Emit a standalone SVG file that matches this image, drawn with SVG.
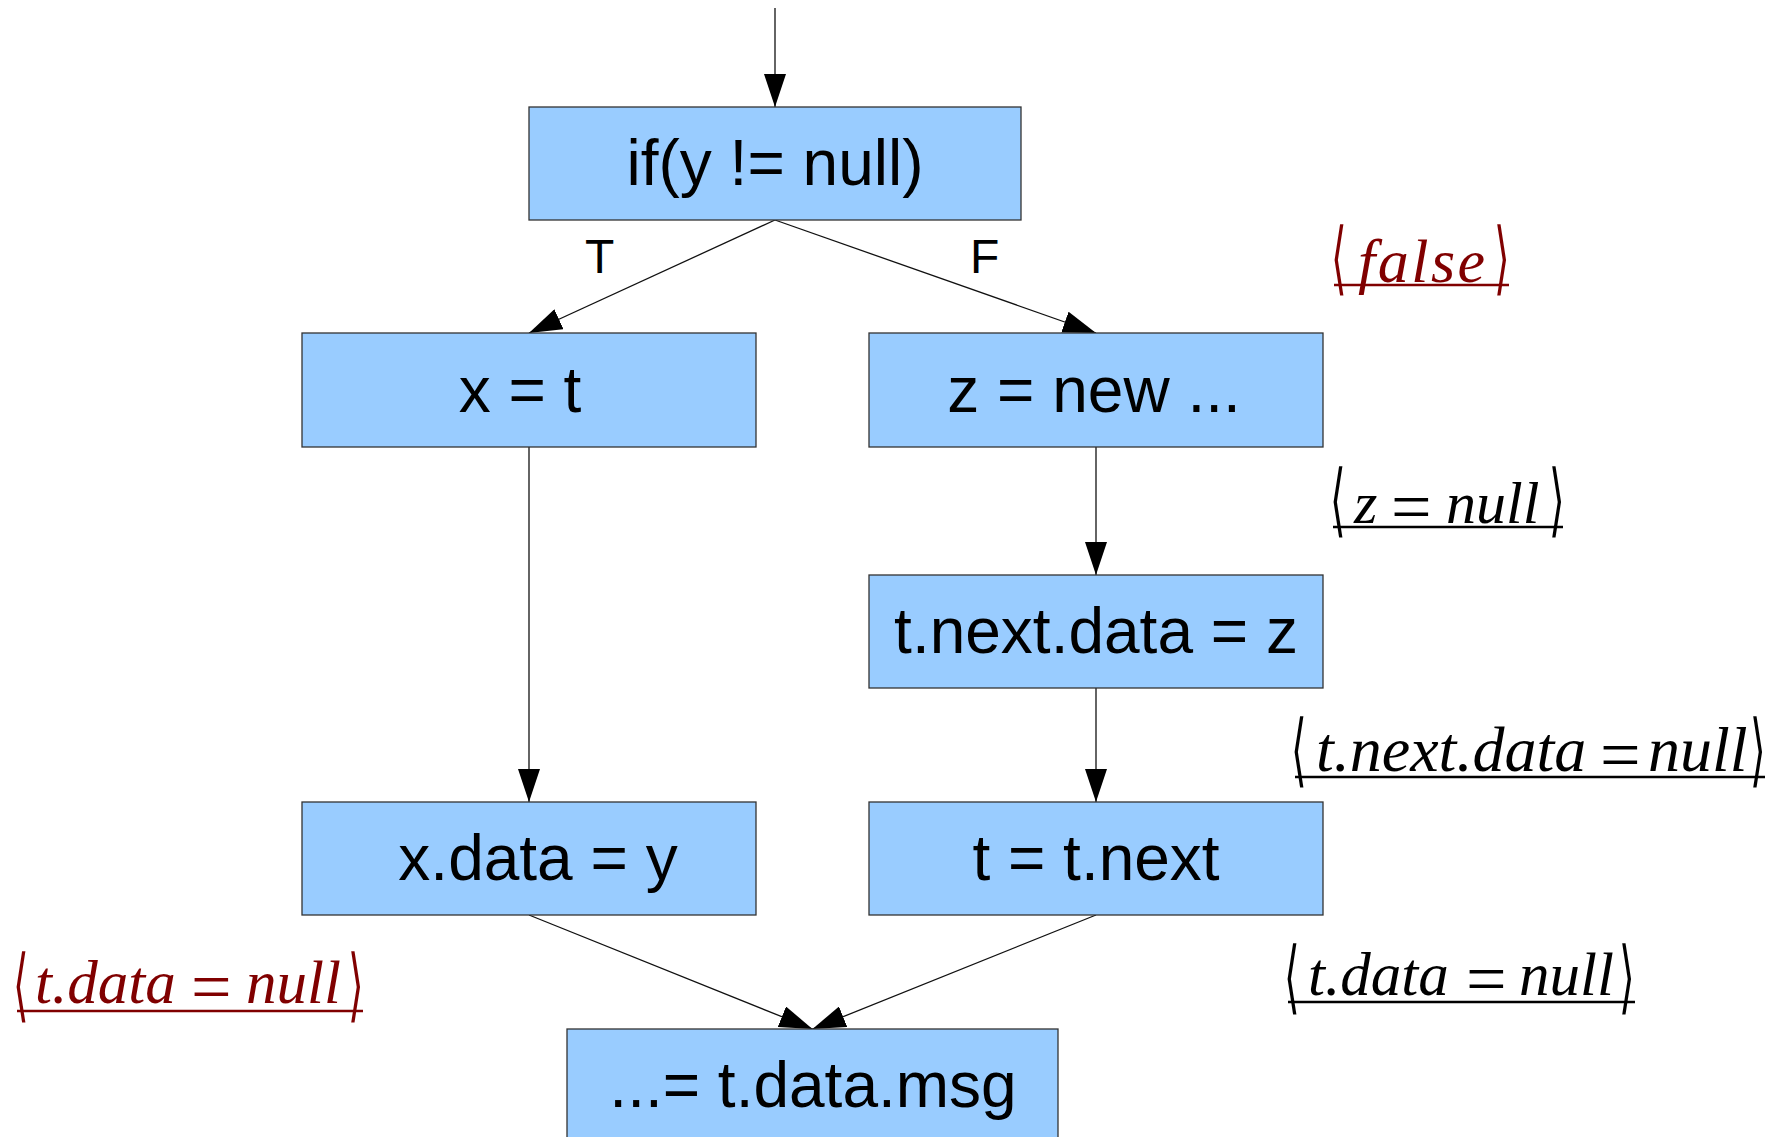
<svg xmlns="http://www.w3.org/2000/svg" width="1785" height="1137" viewBox="0 0 1785 1137">
  <style>
    .box { fill: #99ccff; stroke: #333333; stroke-width: 1.3; }
    .lbl { font-family: "Liberation Sans", Arial, sans-serif; font-size: 64px; fill: #000000; text-anchor: middle; }
    .tf { font-family: "Liberation Sans", Arial, sans-serif; font-size: 48px; fill: #000000; }
    .edge { stroke: #111111; stroke-width: 1.3; fill: none; marker-end: url(#arrow); }
    .math { font-family: "Liberation Serif", "Times New Roman", serif; font-size: 61px; font-style: italic; }
    .eq { font-style: normal; font-size: 72px; }
    .br { font-family: "DejaVu Sans", sans-serif; font-weight: 200; font-size: 80px; font-style: normal; }
    .red { fill: #800000; }
    .blk { fill: #000000; }
    .rule-red { stroke: #800000; stroke-width: 2.5; }
    .rule-blk { stroke: #000000; stroke-width: 2.5; }
  </style>
  <defs>
    <marker id="arrow" markerUnits="userSpaceOnUse" markerWidth="34" markerHeight="22" refX="33" refY="11" orient="auto">
      <path d="M0,0 L33,11 L0,22 Z" fill="#000000"/>
    </marker>
  </defs>

  <rect width="1785" height="1137" fill="#ffffff"/>

  <!-- control-flow edges -->
  <g id="connectors">
    <line class="edge" x1="775" y1="8" x2="775" y2="107"/>
    <line class="edge" x1="775" y1="220" x2="529" y2="333"/>
    <line class="edge" x1="775" y1="220" x2="1096" y2="333"/>
    <line class="edge" x1="529" y1="447" x2="529" y2="802"/>
    <line class="edge" x1="1096" y1="447" x2="1096" y2="575"/>
    <line class="edge" x1="1096" y1="688" x2="1096" y2="802"/>
    <line class="edge" x1="529" y1="915" x2="812.5" y2="1029"/>
    <line class="edge" x1="1096" y1="915" x2="812.5" y2="1029"/>
    <text class="tf" x="585" y="273">T</text>
    <text class="tf" x="970" y="273">F</text>
  </g>

  <!-- statement nodes -->
  <g id="n-if">
    <rect class="box" x="529" y="107" width="492" height="113"/>
    <text class="lbl" x="775" y="185">if(y != null)</text>
  </g>
  <g id="n-xt">
    <rect class="box" x="302" y="333" width="454" height="114"/>
    <text class="lbl" x="520" y="412">x = t</text>
  </g>
  <g id="n-znew">
    <rect class="box" x="869" y="333" width="454" height="114"/>
    <text class="lbl" x="1094" y="412">z = new ...</text>
  </g>
  <g id="n-tnextdata">
    <rect class="box" x="869" y="575" width="454" height="113"/>
    <text class="lbl" x="1096" y="653">t.next.data = z</text>
  </g>
  <g id="n-tnext">
    <rect class="box" x="869" y="802" width="454" height="113"/>
    <text class="lbl" x="1096" y="880">t = t.next</text>
  </g>
  <g id="n-xdata">
    <rect class="box" x="302" y="802" width="454" height="113"/>
    <text class="lbl" x="538" y="880">x.data = y</text>
  </g>
  <g id="n-use">
    <rect class="box" x="567" y="1029" width="491" height="120"/>
    <text class="lbl" x="813" y="1107">...= t.data.msg</text>
  </g>

  <!-- dataflow facts -->
  <g id="fact-false">
    <text class="br red" transform="translate(1331,285) scale(0.5,1)">⟨</text>
    <text class="math red" x="1358" y="282" style="font-size:62px;letter-spacing:2.5px">false</text>
    <text class="br red" transform="translate(1494,285) scale(0.5,1)">⟩</text>
    <line class="rule-red" x1="1334" y1="285" x2="1509" y2="285"/>
  </g>
  <g id="fact-z">
    <text class="br blk" transform="translate(1330,527) scale(0.5,1)">⟨</text>
    <text class="math blk" y="523" style="font-size:60px"><tspan x="1354">z</tspan><tspan class="eq" x="1391" y="531">=</tspan><tspan x="1446" y="523">null</tspan></text>
    <text class="br blk" transform="translate(1549,527) scale(0.5,1)">⟩</text>
    <line class="rule-blk" x1="1333" y1="527" x2="1563" y2="527"/>
  </g>
  <g id="fact-tnextdata">
    <text class="br blk" transform="translate(1291,777) scale(0.5,1)">⟨</text>
    <text class="math blk" y="771" style="font-size:64px"><tspan x="1316">t.next.data</tspan><tspan class="eq" x="1600" y="779">=</tspan><tspan x="1648" y="771">null</tspan></text>
    <text class="br blk" transform="translate(1750,777) scale(0.5,1)">⟩</text>
    <line class="rule-blk" x1="1295" y1="777" x2="1765" y2="777"/>
  </g>
  <g id="fact-tdata-left">
    <text class="br red" transform="translate(13,1012) scale(0.5,1)">⟨</text>
    <text class="math red" y="1003"><tspan x="35">t.data</tspan><tspan class="eq" x="191" y="1011">=</tspan><tspan x="246" y="1003">null</tspan></text>
    <text class="br red" transform="translate(348,1012) scale(0.5,1)">⟩</text>
    <line class="rule-red" x1="17" y1="1011" x2="363" y2="1011"/>
  </g>
  <g id="fact-tdata-right">
    <text class="br blk" transform="translate(1284,1004) scale(0.5,1)">⟨</text>
    <text class="math blk" y="995"><tspan x="1308">t.data</tspan><tspan class="eq" x="1466" y="1003">=</tspan><tspan x="1519" y="995">null</tspan></text>
    <text class="br blk" transform="translate(1619,1004) scale(0.5,1)">⟩</text>
    <line class="rule-blk" x1="1288" y1="1002" x2="1635" y2="1002"/>
  </g>
</svg>
